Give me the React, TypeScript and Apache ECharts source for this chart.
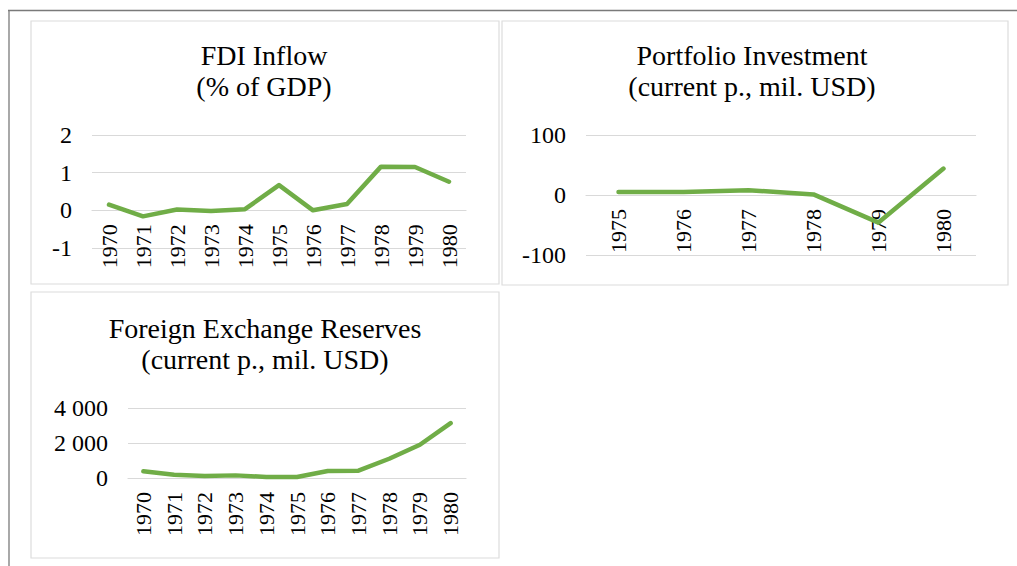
import React, { useEffect, useRef } from "react";
import * as echarts from "echarts";

// ---- Data ----
const fdiYears = ["1970", "1971", "1972", "1973", "1974", "1975", "1976", "1977", "1978", "1979", "1980"];
const fdiInflow = [0.15, -0.16, 0.02, -0.02, 0.03, 0.67, 0.0, 0.17, 1.16, 1.15, 0.76];
const fdiTicks = [-1, 0, 1, 2];

const portfolioYears = ["1975", "1976", "1977", "1978", "1979", "1980"];
const portfolioInvestment = [5, 5, 8, 1, -46, 44];
const portfolioTicks = [-100, 0, 100];

const reserveYears = ["1970", "1971", "1972", "1973", "1974", "1975", "1976", "1977", "1978", "1979", "1980"];
const reserves = [380, 190, 115, 150, 60, 60, 400, 420, 1100, 1900, 3140];
const reserveTicks = [0, 2000, 4000];

const titles = [
  "FDI Inflow\n(% of GDP)",
  "Portfolio Investment\n(current p., mil. USD)",
  "Foreign Exchange Reserves\n(current p., mil. USD)",
];

// ---- Styles ----
const GREEN = "#70AD47";
const GRID_GRAY = "#d9d9d9";
const FONT = "Liberation Serif";

const spaced = (v: number) => String(v).replace(/\B(?=(\d{3})+(?!\d))/g, " ");

const grids = [
  { left: 92, top: 135, width: 374, height: 113 },
  { left: 586, top: 135, width: 390, height: 120 },
  { left: 128, top: 408, width: 338, height: 70 },
];

function yAxisFor(ticks: number[], gridIndex: number, fmt?: (v: number) => string) {
  return {
    type: "value",
    gridIndex,
    min: ticks[0],
    max: ticks[ticks.length - 1],
    interval: ticks[1] - ticks[0],
    axisLine: { show: false },
    axisTick: { show: false },
    splitLine: { show: true, lineStyle: { color: GRID_GRAY, width: 1.2 } },
    axisLabel: {
      fontFamily: FONT,
      fontSize: 24,
      color: "#000",
      margin: 20,
      formatter: fmt ? (v: number) => fmt(v) : undefined,
    },
  };
}

// Category axis placed at the value-axis zero line (Excel "axis crosses at 0")
function xAxisFor(cats: string[], gridIndex: number, ticks: number[]) {
  const min = ticks[0];
  const max = ticks[ticks.length - 1];
  const zeroShift = (grids[gridIndex].height * (0 - min)) / (max - min);
  return {
    type: "category",
    gridIndex,
    data: cats,
    boundaryGap: true,
    position: "bottom",
    offset: -zeroShift,
    axisTick: { show: false },
    axisLine: { show: true, onZero: false, lineStyle: { color: GRID_GRAY, width: 1.2 } },
    splitLine: { show: false },
    axisLabel: {
      rotate: 90,
      interval: 0,
      fontFamily: FONT,
      fontSize: 22,
      color: "#000",
      margin: 14,
    },
  };
}

function titleFor(text: string, cx: number, top: number) {
  return {
    text,
    left: cx,
    top,
    padding: 0,
    textAlign: "center",
    textStyle: {
      fontFamily: FONT,
      fontSize: 28,
      fontWeight: "normal",
      color: "#000",
      lineHeight: 31,
    },
  };
}

function lineSeries(data: number[], idx: number) {
  return {
    type: "line",
    xAxisIndex: idx,
    yAxisIndex: idx,
    data,
    symbol: "none",
    lineStyle: { color: GREEN, width: 4.5, join: "round", cap: "round" },
    itemStyle: { color: GREEN },
    z: 3,
  };
}

export default function App() {
  const ref = useRef<HTMLDivElement>(null);

  useEffect(() => {
    if (!ref.current) return;
    const chart = echarts.init(ref.current, undefined, { renderer: "svg" });

    const panel = (x: number, y: number, w: number, h: number) => ({
      type: "rect",
      z: -10,
      silent: true,
      shape: { x, y, width: w, height: h },
      style: { fill: "#ffffff", stroke: "#dcdcdc", lineWidth: 1.2 },
    });

    chart.setOption({
      animation: false,
      backgroundColor: "#ffffff",
      textStyle: { fontFamily: FONT },
      title: [
        titleFor(titles[0], 264, 40),
        titleFor(titles[1], 752, 40),
        titleFor(titles[2], 265, 313),
      ],
      grid: grids,
      xAxis: [
        xAxisFor(fdiYears, 0, fdiTicks),
        xAxisFor(portfolioYears, 1, portfolioTicks),
        xAxisFor(reserveYears, 2, reserveTicks),
      ],
      yAxis: [
        yAxisFor(fdiTicks, 0),
        yAxisFor(portfolioTicks, 1),
        yAxisFor(reserveTicks, 2, spaced),
      ],
      series: [lineSeries(fdiInflow, 0), lineSeries(portfolioInvestment, 1), lineSeries(reserves, 2)],
      graphic: [
        panel(31, 21, 468, 263),
        panel(502, 21, 506, 264),
        panel(31, 292, 468, 266),
        {
          type: "line",
          z: -5,
          silent: true,
          shape: { x1: 8, y1: 10.5, x2: 1017, y2: 10.5 },
          style: { stroke: "#7a7a7a", lineWidth: 1.3 },
        },
        {
          type: "line",
          z: -5,
          silent: true,
          shape: { x1: 9, y1: 10.5, x2: 9, y2: 566 },
          style: { stroke: "#7a7a7a", lineWidth: 1.3 },
        },
      ],
    });

    return () => chart.dispose();
  }, []);

  return (
    <div
      ref={ref}
      style={{ position: "absolute", left: 0, top: 0, width: 1017, height: 566 }}
    />
  );
}
